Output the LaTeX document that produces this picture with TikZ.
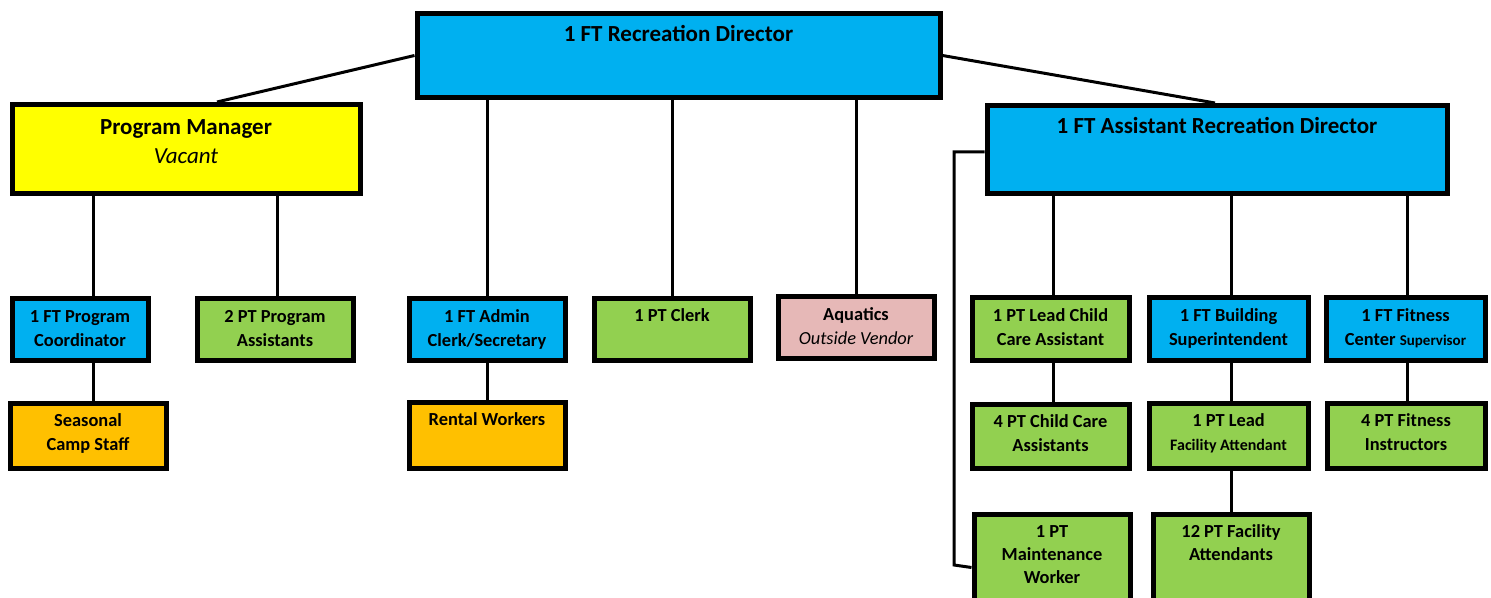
\documentclass[tikz,border=0pt]{standalone}
\usepackage{fontspec}
\setmainfont{Carlito}
\usepackage{xcolor}
\usepackage{tikz}

\definecolor{staffblue}{HTML}{00B0F0}
\definecolor{staffyellow}{HTML}{FFFF00}
\definecolor{staffgreen}{HTML}{92D050}
\definecolor{stafforange}{HTML}{FFC000}
\definecolor{staffpink}{HTML}{E6B8B7}

\newlength{\pxu}
\setlength{\pxu}{0.5pt}
% box text: [first baseline]{width}{height}{lines}
\newcommand{\orgtext}[4][12.2pt]{\parbox[c][#3\pxu][t]{#2\pxu}{\centering\rule{0pt}{#1}#4}}

\tikzset{
  orgbox/.style={draw, line width=2.5pt, inner sep=0pt, anchor=north,
    font=\bfseries\fontsize{9.2}{11.6}\selectfont},
  headbox/.style={orgbox, font=\bfseries\fontsize{11.5}{14.5}\selectfont},
  link/.style={line width=1.5pt},
}

\begin{document}
\begin{tikzpicture}[x=0.5pt,y=-0.5pt]
\useasboundingbox (0,0) rectangle (1491,598);
\clip (0,0) rectangle (1491,598);

% top level
\node[headbox,fill=staffblue] (dir) at (678.5,11) {\orgtext[14pt]{523}{84}{1 FT Recreation Director}};
\node[headbox,fill=staffyellow] (pm) at (186,102) {\orgtext[14.8pt]{348}{89}{Program Manager\\{\mdseries\itshape Vacant}}};
\node[headbox,fill=staffblue] (asst) at (1217,103) {\orgtext[14.2pt]{460}{88}{1 FT Assistant Recreation Director}};

% second row
\node[orgbox,fill=staffblue] (pc) at (80,296) {\orgtext{136}{62}{1 FT Program\\Coordinator}};
\node[orgbox,fill=staffgreen] (pa) at (275,296) {\orgtext{156}{62}{2 PT Program\\Assistants}};
\node[orgbox,fill=staffblue] (admin) at (487,296) {\orgtext{156}{62}{1 FT Admin\\Clerk/Secretary}};
\node[orgbox,fill=staffgreen] (clerk) at (672,296) {\orgtext[11.5pt]{156}{62}{1 PT Clerk}};
\node[orgbox,fill=staffpink] (aqua) at (856,294) {\orgtext{156}{62}{Aquatics\\{\mdseries\itshape Outside Vendor}}};
\node[orgbox,fill=staffgreen] (leadcc) at (1050.5,295) {\orgtext{157}{63}{1 PT Lead Child\\Care Assistant}};
\node[orgbox,fill=staffblue] (bsup) at (1228.5,295) {\orgtext{159}{63}{1 FT Building\\Superintendent}};
\node[orgbox,fill=staffblue] (fsup) at (1405.5,295) {\orgtext{159}{63}{1 FT Fitness\\Center {\fontsize{7.5}{9}\selectfont Supervisor}}};

% third row
\node[orgbox,fill=stafforange] (camp) at (88,401) {\orgtext[11.7pt]{156}{65}{Seasonal\\Camp Staff}};
\node[orgbox,fill=stafforange] (rental) at (487,400) {\orgtext[11.7pt]{156}{66}{Rental Workers}};
\node[orgbox,fill=staffgreen] (cca) at (1050.5,402) {\orgtext[11.7pt]{157}{64}{4 PT Child Care\\Assistants}};
\node[orgbox,fill=staffgreen] (leadfa) at (1228.5,401) {\orgtext[11.7pt]{159}{65}{1 PT Lead\\{\fontsize{8}{11.6}\selectfont Facility Attendant}}};
\node[orgbox,fill=staffgreen] (fit) at (1406,401) {\orgtext[11.7pt]{158}{65}{4 PT Fitness\\Instructors}};

% fourth row
\node[orgbox,fill=staffgreen] (maint) at (1052,512) {\orgtext[11.5pt]{156}{106}{1 PT\\Maintenance\\Worker}};
\node[orgbox,fill=staffgreen] (fa) at (1231,512) {\orgtext[11.5pt]{156}{106}{12 PT Facility\\Attendants}};

% connectors
\draw[link] (dir.west) -- (pm.north -| 217,0);
\draw[link] (dir.east) -- (asst.north -| 1215,0);
\draw[link] (dir.south -| admin.north) -- (admin.north);
\draw[link] (dir.south -| clerk.north) -- (clerk.north);
\draw[link] (dir.south -| aqua.north) -- (aqua.north);
\draw[link] (pm.south -| 93,0) -- (pc.north -| 93,0);
\draw[link] (pm.south -| 277,0) -- (pa.north -| 277,0);
\draw[link] (pc.south -| 93,0) -- (camp.north -| 93,0);
\draw[link] (admin.south) -- (rental.north);
\draw[link] (asst.south -| 1053,0) -- (leadcc.north -| 1053,0);
\draw[link] (asst.south -| 1231,0) -- (bsup.north -| 1231,0);
\draw[link] (asst.south -| 1407,0) -- (fsup.north -| 1407,0);
\draw[link] (leadcc.south -| 1053,0) -- (cca.north -| 1053,0);
\draw[link] (bsup.south -| 1231,0) -- (leadfa.north -| 1231,0);
\draw[link] (fsup.south -| 1407,0) -- (fit.north -| 1407,0);
\draw[link] (leadfa.south -| 1231,0) -- (fa.north);
\draw[link] (asst.west |- 0,152) -| (954,565) -- (maint.west);
\end{tikzpicture}
\end{document}
